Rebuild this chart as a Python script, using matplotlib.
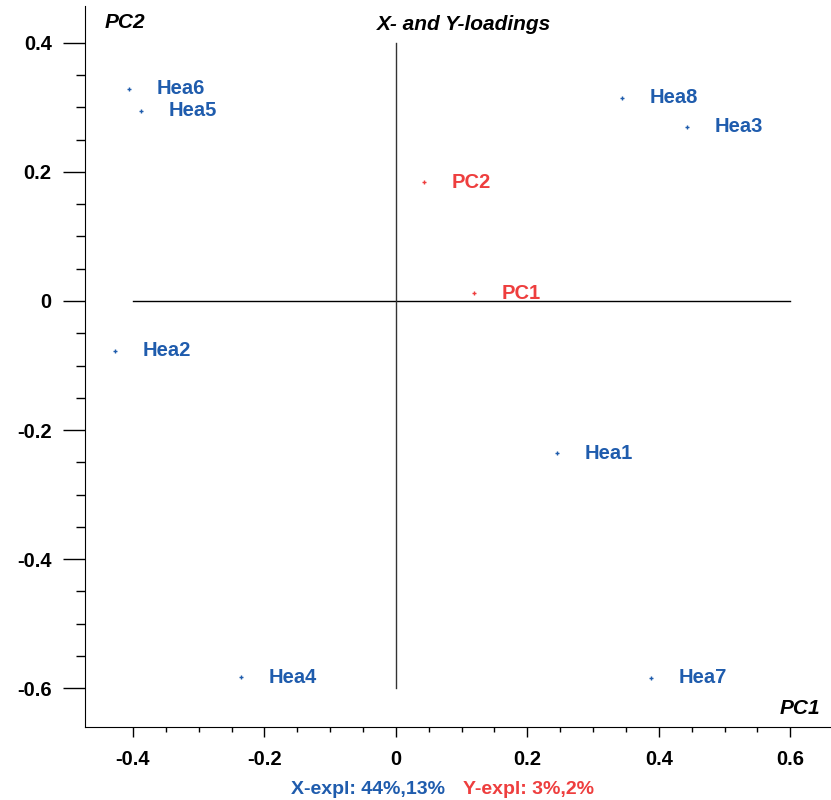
import numpy as np
import matplotlib.pyplot as plt
from matplotlib.ticker import FixedLocator, FuncFormatter

plt.rcParams['font.family'] = ['Liberation Sans', 'DejaVu Sans']
plt.rcParams['font.weight'] = 'bold'

# X-loadings (blue) and Y-loadings (red)
x_names = ['Hea1', 'Hea2', 'Hea3', 'Hea4', 'Hea5', 'Hea6', 'Hea7', 'Hea8']
x_pc1 = [0.245, -0.427, 0.443, -0.236, -0.388, -0.406, 0.388, 0.344]
x_pc2 = [-0.236, -0.077, 0.270, -0.583, 0.295, 0.329, -0.584, 0.315]

y_names = ['PC1', 'PC2']
y_pc1 = [0.119, 0.043]
y_pc2 = [0.012, 0.184]

blue = '#1f5cad'
red = '#ee3e3e'
fs = 14.5

fig = plt.figure(figsize=(8.31, 8.0), dpi=100)
ax = fig.add_axes([85 / 831, 73 / 800, 746 / 831, 721 / 800])

ax.set_xlim(-0.473, 0.662)
ax.set_ylim(-0.660, 0.457)

# zero lines
ax.plot([-0.4, 0.6], [0, 0], color='black', lw=1)
ax.plot([0, 0], [-0.6, 0.4], color='#333333', lw=1)

ax.scatter(x_pc1, x_pc2, marker='+', s=10, color=blue, linewidths=1, zorder=3)
ax.scatter(y_pc1, y_pc2, marker='+', s=10, color=red, linewidths=1, zorder=3)

for name, px, py in zip(x_names, x_pc1, x_pc2):
    ax.annotate(name, (px, py), xytext=(20, 0), textcoords='offset points',
                va='center', ha='left', color=blue, fontsize=fs, fontweight='bold')
for name, px, py in zip(y_names, y_pc1, y_pc2):
    ax.annotate(name, (px, py), xytext=(19.5, 0), textcoords='offset points',
                va='center', ha='left', color=red, fontsize=fs, fontweight='bold')

ax.spines['top'].set_visible(False)
ax.spines['right'].set_visible(False)

xmajor = [-0.4, -0.2, 0, 0.2, 0.4, 0.6]
ymajor = [-0.6, -0.4, -0.2, 0, 0.2, 0.4]
xminor = [v / 100 for v in range(-40, 61, 5)]
yminor = [v / 100 for v in range(-60, 41, 5)]
ax.xaxis.set_major_locator(FixedLocator(xmajor))
ax.xaxis.set_minor_locator(FixedLocator(xminor))
ax.yaxis.set_major_locator(FixedLocator(ymajor))
ax.yaxis.set_minor_locator(FixedLocator(yminor))
fmt = FuncFormatter(lambda v, p: '0' if abs(v) < 1e-9 else f'{v:.1f}')
ax.xaxis.set_major_formatter(fmt)
ax.yaxis.set_major_formatter(fmt)
ax.tick_params(axis='y', which='major', length=16, width=1, labelsize=fs, pad=8)
ax.tick_params(axis='y', which='minor', length=6.5, width=1)
ax.tick_params(axis='x', which='major', length=7.5, width=1, labelsize=fs, pad=9)
ax.tick_params(axis='x', which='minor', length=3.6, width=1)
for lab in ax.get_xticklabels() + ax.get_yticklabels():
    lab.set_fontweight('bold')

fig.text(464 / 831, 1 - 25 / 800, 'X- and Y-loadings', ha='center', va='center',
         fontsize=15, fontweight='bold', style='italic')
fig.text(125 / 831, 1 - 22 / 800, 'PC2', ha='center', va='center',
         fontsize=15, fontweight='bold', style='italic')
fig.text(800 / 831, 1 - 708 / 800, 'PC1', ha='center', va='center',
         fontsize=15, fontweight='bold', style='italic')

fig.text(445 / 831, 1 - 790 / 800, 'X-expl: 44%,13%', ha='right', va='center',
         fontsize=14, fontweight='bold', color=blue)
fig.text(463 / 831, 1 - 790 / 800, 'Y-expl: 3%,2%', ha='left', va='center',
         fontsize=14, fontweight='bold', color=red)

fig.savefig('out.png', dpi=100)
